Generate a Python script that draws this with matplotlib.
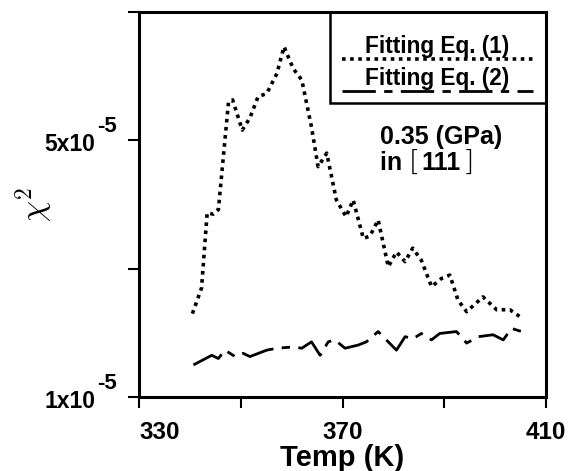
import matplotlib
matplotlib.use("Agg")
import matplotlib.pyplot as plt
import matplotlib.transforms as mtransforms
import numpy as np

plt.rcParams['font.family'] = ['Liberation Sans', 'DejaVu Sans']
plt.rcParams['font.weight'] = 'bold'

# chi^2 (units of 1e-5)
temp_eq1 = [340.5, 342.3, 343.4, 344.6, 345.6, 347.6, 348.4, 350.3, 351.8, 353.4,
            355.1, 357.1, 358.5, 360.3, 362.0, 363.9, 365.2, 366.9, 368.8, 370.7,
            372.1, 374.1, 375.4, 377.0, 379.0, 380.6, 382.3, 383.8, 385.5, 387.5,
            389.5, 391.1, 392.7, 394.4, 397.6, 400.3, 402.9, 404.9]
chi_eq1 = [2.30, 2.70, 3.87, 3.85, 3.92, 5.60, 5.63, 5.16, 5.35, 5.68,
           5.73, 6.04, 6.46, 6.12, 5.94, 5.21, 4.59, 4.80, 4.07, 3.81,
           4.07, 3.47, 3.51, 3.76, 3.03, 3.26, 3.11, 3.32, 3.13, 2.72,
           2.85, 2.90, 2.51, 2.33, 2.56, 2.36, 2.36, 2.25]

temp_eq2 = [340.7, 344.3, 345.6, 346.9, 348.9, 350.5, 351.8, 355.1, 357.1, 360.3,
            362.0, 363.9, 365.6, 367.2, 368.5, 370.5, 373.1, 374.7, 377.0, 380.6,
            382.3, 383.9, 385.5, 387.5, 389.1, 392.4, 394.4, 396.7, 399.6, 401.6,
            403.2, 405.2]
chi_eq2 = [1.50, 1.65, 1.60, 1.73, 1.63, 1.68, 1.63, 1.73, 1.76, 1.78,
           1.76, 1.86, 1.65, 1.86, 1.89, 1.76, 1.81, 1.86, 2.02, 1.73,
           1.94, 1.91, 1.99, 1.89, 1.99, 2.02, 1.84, 1.94, 1.97, 1.89,
           2.07, 2.02]

x_ticks = [330, 350, 370, 390, 410]
x_labels = ['330', '', '370', '', '410']
y_ticks = [1e-5, 3e-5, 5e-5, 7e-5]
# labelled y ticks: mantissa and exponent drawn separately (exponent uses a hyphen)
y_label_vals = [1e-5, 5e-5]
y_label_base = ['1x10', '5x10']
y_label_exp = ['-5', '-5']

dot_style = (0, (1.0, 1.25))
dash_style = (0, (12, 3, 3, 3))

fig = plt.figure(figsize=(5.68, 4.71), dpi=100)
ax = fig.add_axes([0.2447, 0.1571, 0.7166, 0.8174])

ax.plot(temp_eq1, np.array(chi_eq1) * 1e-5, color='black', lw=2.6,
        linestyle=dot_style, dash_capstyle='butt')
ax.plot(temp_eq2, np.array(chi_eq2) * 1e-5, color='black', lw=2.0,
        linestyle=dash_style, dash_capstyle='butt')

ax.set_xlim(330, 410)
ax.set_ylim(1e-5, 7e-5)
ax.set_xticks(x_ticks)
ax.set_xticklabels(x_labels, fontsize=17.5, fontweight='bold')
ax.get_xticklabels()[0].set_horizontalalignment('left')
ax.set_yticks(y_ticks)
ax.set_yticklabels([''] * len(y_ticks))
ax.tick_params(direction='out', length=8, width=1.5)
ax.tick_params(axis='x', pad=9)
for s in ax.spines.values():
    s.set_linewidth(2.2)

blend = mtransforms.blended_transform_factory(ax.transAxes, ax.transData)
shift = mtransforms.ScaledTranslation(0, -3 / 72, fig.dpi_scale_trans)
for v, base, ex in zip(y_label_vals, y_label_base, y_label_exp):
    t = ax.text(-0.108, v, base, transform=blend + shift, ha='right', va='center',
                fontsize=16.5, fontweight='bold')
    ax.annotate(ex, xy=(1, 1), xycoords=t, xytext=(1.5, -3),
                textcoords='offset points', ha='left', va='bottom',
                fontsize=16, fontweight='bold')

ax.set_xlabel('Temp (K)', fontsize=21, fontweight='bold')
ax.xaxis.set_label_coords(0.5, -0.122)
ax.set_ylabel(r'$\chi^{\mathbf{2}}$', fontsize=24, math_fontfamily='cm')
ax.yaxis.set_label_coords(-0.205, 0.5)

# legend box drawn by hand: text sits above its line
tr = ax.transAxes
box = plt.Rectangle((0.469, 0.763), 0.531, 0.237, transform=tr, fill=False,
                    lw=1.8, color='black', clip_on=False)
ax.add_patch(box)
ax.text(0.733, 0.8935, 'Fitting Eq. (1)', transform=tr, ha='center', va='baseline',
        fontsize=16.3, fontweight='bold')
ax.plot([0.499, 0.968], [0.878, 0.878], transform=tr, color='black', lw=2.6,
        linestyle=dot_style, dash_capstyle='butt')
ax.text(0.733, 0.81, 'Fitting Eq. (2)', transform=tr, ha='center', va='baseline',
        fontsize=16.3, fontweight='bold')
ax.plot([0.499, 0.968], [0.795, 0.795], transform=tr, color='black', lw=2.0,
        linestyle=dash_style, dash_capstyle='butt')

ax.text(0.592, 0.675, '0.35 (GPa)', transform=tr, ha='left', va='center',
        fontsize=18, fontweight='bold')
t_in = ax.text(0.592, 0.607, 'in ', transform=tr, ha='left', va='center',
               fontsize=18, fontweight='bold')
t_lb = ax.annotate('[', xy=(1, 0.5), xycoords=t_in, ha='left', va='center',
                   fontsize=21, fontweight='light', family='DejaVu Sans')
t_num = ax.annotate('111', xy=(1, 0.5), xycoords=t_lb, ha='left', va='center',
                    xytext=(1, 0), textcoords='offset points',
                    fontsize=18, fontweight='bold')
ax.annotate(']', xy=(1, 0.5), xycoords=t_num, ha='left', va='center',
            xytext=(1, 0), textcoords='offset points',
            fontsize=21, fontweight='light', family='DejaVu Sans')

fig.savefig('out.png', dpi=100)
